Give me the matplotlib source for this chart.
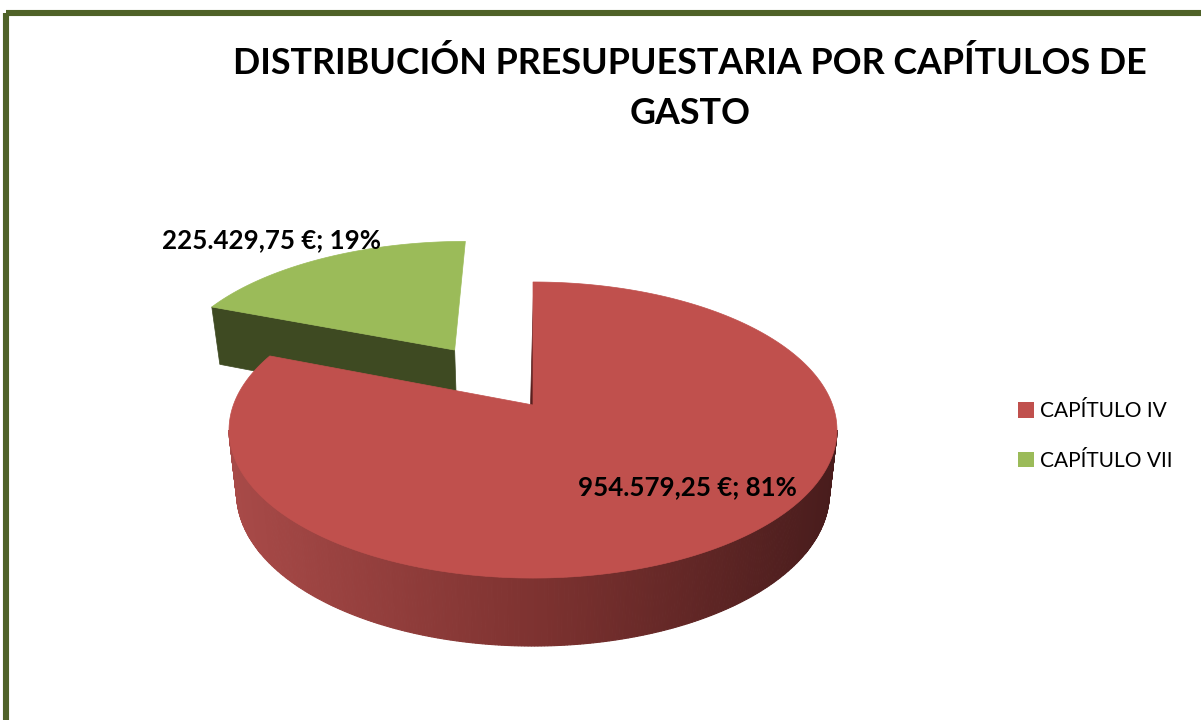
import numpy as np
import matplotlib
matplotlib.use("Agg")
import matplotlib.pyplot as plt
from matplotlib.patches import Polygon, Rectangle, Patch

# data
categories = ["CAPÍTULO IV", "CAPÍTULO VII"]
amounts = [954579.25, 225429.75]
value_labels = ["954.579,25 €; 81%", "225.429,75 €; 19%"]
top_colors = ["#C0504D", "#9BBB59"]
side_colors = ["#8A3634", "#3E4A22"]
explode = [0.0, 0.495]

title = "DISTRIBUCIÓN PRESUPUESTARIA POR CAPÍTULOS DE\nGASTO"

# pie geometry in pixels (perspective look of the Excel 3D pie)
CX, CY = 533, 405
A, B, K = 299.6, 143.8, 0.169
SX = 0.975
FONT = ["Lato", "DejaVu Sans"]


def project(u, v, bottom=False):
    u = np.asarray(u, dtype=float)
    v = np.asarray(v, dtype=float)
    den = 1 + K * v
    x = CX + A * u / den
    y = CY - B * v / den
    if bottom:
        x = CX + (x - CX) * SX
        y = y + (62 - 6 * v)
    return x, y


def rim(t0, t1, off, n=200, bottom=False):
    t = np.radians(np.linspace(t0, t1, n))
    return project(np.cos(t) + off[0], np.sin(t) + off[1], bottom)


def side_color(x):
    xs = [232, 540, 841]
    cols = np.array([[168, 74, 72], [125, 50, 48], [72, 28, 28]]) / 255
    return [np.interp(x, xs, cols[:, i]) for i in range(3)]


def main():
    fig = plt.figure(figsize=(12.01, 7.2), dpi=100)
    ax = fig.add_axes([0, 0, 1, 1])
    ax.set_xlim(0, 1201)
    ax.set_ylim(720, 0)
    ax.axis("off")

    fracs = np.array(amounts) / sum(amounts)
    starts = 90 - 360 * np.concatenate([[0], np.cumsum(fracs)[:-1]])
    ends = starts - 360 * fracs

    # green slice (back, exploded)
    t0, t1 = starts[1], ends[1]
    mid = np.radians((t0 + t1) / 2)
    off = (explode[1] * np.cos(mid), explode[1] * np.sin(mid))
    edge = np.radians(t0)
    ex, ey = project(np.cos(edge) + off[0], np.sin(edge) + off[1])
    apx, apy = project(off[0], off[1])
    exb, eyb = project(np.cos(edge) + off[0], np.sin(edge) + off[1], True)
    apxb, apyb = project(off[0], off[1], True)
    ax.add_patch(Polygon([[ex, ey], [apx, apy], [apxb, apyb], [exb, eyb]],
                         closed=True, fc=side_colors[1], ec=side_colors[1], lw=0.5))
    gx, gy = rim(t0, t1, off)
    pts = np.column_stack([np.r_[apx, gx], np.r_[apy, gy]])
    ax.add_patch(Polygon(pts, closed=True, fc=top_colors[1], ec=top_colors[1], lw=0.5))

    # red slice: front rim side with gradient
    s = np.degrees(np.arcsin(K))
    tx, ty = rim(180 + s, 360 - s, (0, 0), n=300)
    bx, by = rim(180 + s, 360 - s, (0, 0), n=300, bottom=True)
    for i in range(len(tx) - 1):
        quad = [[tx[i], ty[i]], [tx[i + 1], ty[i + 1]], [bx[i + 1], by[i + 1]], [bx[i], by[i]]]
        c = side_color((tx[i] + tx[i + 1]) / 2)
        ax.add_patch(Polygon(quad, closed=True, fc=c, ec=c, lw=0.8))

    # thin sliver of the radial face on the 12 o'clock edge
    topx, topy = project(0, 1)
    ax.add_patch(Polygon([[topx, topy + 8], [CX, CY], [CX - 3, CY]], closed=True,
                         fc="#5A1F1E", ec="#5A1F1E", lw=0.5))

    rx, ry = rim(starts[0], ends[0], (0, 0), n=400)
    pts = np.column_stack([np.r_[CX, rx], np.r_[CY, ry]])
    ax.add_patch(Polygon(pts, closed=True, fc=top_colors[0], ec=top_colors[0], lw=0.5))

    # data labels
    ax.text(687, 487, value_labels[0], ha="center", va="center", fontsize=18.6,
            fontweight="bold", family=FONT, color="black")
    ax.text(271, 240, value_labels[1], ha="center", va="center", fontsize=18.6,
            fontweight="bold", family=FONT, color="black")

    # title
    ax.text(690, 88, title, ha="center", va="center", fontsize=25.8, fontweight="bold",
            family=FONT, color="black", linespacing=1.62)

    # legend
    handles = [Patch(fc=c, ec="none") for c in top_colors]
    fig.legend(handles, categories, loc="center left", bbox_to_anchor=(1018 / 1201, 1 - 436 / 720),
               frameon=False, prop={"family": FONT, "size": 15}, handlelength=0.75,
               handleheight=0.75, handletextpad=0.3, labelspacing=1.42, borderpad=0,
               borderaxespad=0)

    # outer frame
    ax.add_patch(Rectangle((6, 13), 1250, 760, fill=False, ec="#4F6228", lw=4.4,
                           clip_on=False))

    fig.savefig("out.png", dpi=100)


if __name__ == "__main__":
    main()
